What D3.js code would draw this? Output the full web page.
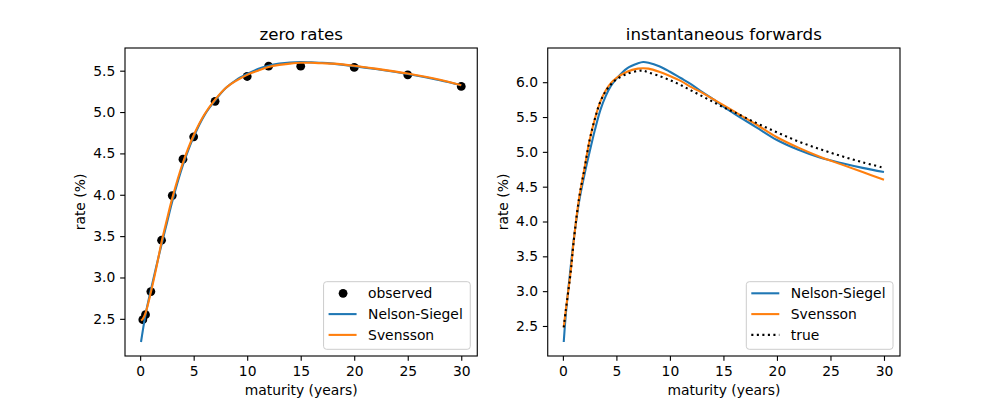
<!DOCTYPE html>
<html>
<head>
<meta charset="utf-8">
<script src="https://cdn.jsdelivr.net/npm/d3@7"></script>
<style>
    html, body { margin: 0; padding: 0; background: #fff; }
    svg text { font-family: "DejaVu Sans", sans-serif; fill: #000; }
</style>
</head>
<body>
<div id="chart"></div>
<script>
(function () {

    // observed zero rates
    var OBS_T    = [0.25, 0.5, 1, 2, 3, 4, 5, 7, 10, 12, 15, 20, 25, 30];
    var OBS_RATE = [2.49, 2.55, 2.83, 3.45, 3.99, 4.43, 4.70, 5.13, 5.43, 5.555, 5.555, 5.54, 5.45, 5.31];

    // fitted zero curves
    var ZERO_T  = [0.08, 0.25, 0.5, 1, 1.5, 2, 2.5, 3, 4, 5, 6, 7, 8, 9, 10, 11, 12, 13, 14, 15, 16, 17, 18, 20, 22, 25, 28, 30];
    var ZERO_NS = [2.22, 2.36, 2.55, 2.85, 3.13, 3.40, 3.66, 3.92, 4.36, 4.70, 4.96, 5.14, 5.29, 5.39, 5.46, 5.52, 5.56, 5.585, 5.60, 5.605, 5.60, 5.595, 5.585, 5.555, 5.52, 5.46, 5.385, 5.325];
    var ZERO_SV = [2.48, 2.50, 2.57, 2.82, 3.11, 3.43, 3.70, 3.96, 4.39, 4.72, 4.97, 5.15, 5.29, 5.38, 5.45, 5.50, 5.545, 5.57, 5.585, 5.595, 5.595, 5.59, 5.585, 5.56, 5.525, 5.465, 5.39, 5.325];

    // instantaneous forwards
    var FWD_T    = [0.08, 0.25, 0.5, 0.75, 1, 1.5, 2, 2.5, 3, 3.5, 4, 4.5, 5, 6, 7, 7.5, 8, 9, 10, 11, 12, 13, 14, 15, 16, 18, 20, 22, 24, 26, 28, 30];
    var FWD_NS   = [2.27, 2.62, 3.02, 3.38, 3.72, 4.27, 4.66, 5.00, 5.32, 5.60, 5.80, 5.95, 6.05, 6.20, 6.27, 6.29, 6.28, 6.23, 6.15, 6.06, 5.97, 5.86, 5.76, 5.65, 5.55, 5.36, 5.17, 5.03, 4.92, 4.84, 4.77, 4.71];
    var FWD_SV   = [2.48, 2.70, 3.00, 3.31, 3.70, 4.32, 4.75, 5.17, 5.48, 5.72, 5.88, 5.99, 6.06, 6.15, 6.195, 6.20, 6.195, 6.15, 6.09, 6.02, 5.93, 5.85, 5.76, 5.67, 5.58, 5.40, 5.21, 5.06, 4.93, 4.82, 4.71, 4.60];
    var FWD_TRUE = [2.48, 2.70, 2.99, 3.30, 3.70, 4.32, 4.74, 5.17, 5.48, 5.72, 5.87, 5.97, 6.04, 6.12, 6.16, 6.165, 6.14, 6.09, 6.03, 5.96, 5.88, 5.80, 5.72, 5.64, 5.57, 5.42, 5.28, 5.15, 5.04, 4.94, 4.85, 4.77];

    // ticks
    var X_TICKS       = [0, 5, 10, 15, 20, 25, 30];
    var Y_TICKS_ZERO  = [2.5, 3.0, 3.5, 4.0, 4.5, 5.0, 5.5];
    var Y_TICKS_FWD   = [2.5, 3.0, 3.5, 4.0, 4.5, 5.0, 5.5, 6.0];

    var BLUE   = "#1f77b4";
    var ORANGE = "#ff7f0e";

    var W = 1000, H = 400;
    var PT = 100 / 72;          // matplotlib points -> px
    var FS = 10 * PT;           // base font size
    var TICK = 3.5 * PT;

    var axW  = 775 / 2.2;
    var top  = 48, bottom = 356;
    var iH   = bottom - top;

    var svg = d3.select("#chart").append("svg")
        .attr("width", W).attr("height", H);

    function zip(ts, vs) {
        return ts.map(function (t, i) { return { t: t, v: vs[i] }; });
    }

    function padded(ext) {
        var p = (ext[1] - ext[0]) * 0.05;
        return [ext[0] - p, ext[1] + p];
    }

    /* one panel */
    function panel(left, title, yTicks, series, points, legendItems) {
        var g = svg.append("g")
            .attr("transform", "translate(" + left + "," + top + ")");

        var allT = [], allV = [];
        series.forEach(function (s) { allT = allT.concat(s.t); allV = allV.concat(s.v); });
        if (points) { allT = allT.concat(points.t); allV = allV.concat(points.v); }

        var x = d3.scaleLinear().domain(padded(d3.extent(allT))).range([0, axW]);
        var y = d3.scaleLinear().domain(padded(d3.extent(allV))).range([iH, 0]);

        g.append("defs").append("clipPath")
            .attr("id", "clip-" + left)
            .append("rect").attr("width", axW).attr("height", iH);

        var plot = g.append("g").attr("clip-path", "url(#clip-" + left + ")");

        if (points) {
            plot.selectAll("circle.obs")
                .data(zip(points.t, points.v))
                .enter().append("circle")
                .attr("class", "obs")
                .attr("cx", function (d) { return x(d.t); })
                .attr("cy", function (d) { return y(d.v); })
                .attr("r", 4.4)
                .attr("fill", "#000");
        }

        var line = d3.line()
            .x(function (d) { return x(d.t); })
            .y(function (d) { return y(d.v); })
            .curve(d3.curveCatmullRom.alpha(0.5));

        series.forEach(function (s) {
            plot.append("path")
                .datum(zip(s.t, s.v))
                .attr("fill", "none")
                .attr("stroke", s.color)
                .attr("stroke-width", 1.5 * PT)
                .attr("stroke-dasharray", s.dash || null)
                .attr("d", line);
        });

        // axes
        var xAxis = g.append("g")
            .attr("transform", "translate(0," + iH + ")")
            .call(d3.axisBottom(x).tickValues(X_TICKS).tickFormat(d3.format("d"))
                .tickSize(TICK).tickPadding(TICK).tickSizeOuter(0));
        var yAxis = g.append("g")
            .call(d3.axisLeft(y).tickValues(yTicks).tickFormat(d3.format(".1f"))
                .tickSize(TICK).tickPadding(TICK).tickSizeOuter(0));

        [xAxis, yAxis].forEach(function (a) {
            a.select(".domain").remove();
            a.selectAll("line").attr("stroke", "#000").attr("stroke-width", 0.8 * PT);
            a.selectAll("text")
                .attr("fill", "#000")
                .style("font-family", "'DejaVu Sans', sans-serif")
                .style("font-size", FS + "px");
        });

        // frame
        g.append("rect")
            .attr("width", axW).attr("height", iH)
            .attr("fill", "none")
            .attr("stroke", "#000")
            .attr("stroke-width", 0.8 * PT);

        // labels
        g.append("text")
            .attr("x", axW / 2).attr("y", -8.3)
            .attr("text-anchor", "middle")
            .style("font-size", (12 * PT) + "px")
            .text(title);

        g.append("text")
            .attr("x", axW / 2).attr("y", iH + 39)
            .attr("text-anchor", "middle")
            .style("font-size", FS + "px")
            .text("maturity (years)");

        g.append("text")
            .attr("transform", "rotate(-90)")
            .attr("x", -iH / 2).attr("y", -40)
            .attr("text-anchor", "middle")
            .style("font-size", FS + "px")
            .text("rate (%)");

        // legend
        var lgW = 146.7, lgH = 67.6;
        var lg = g.append("g")
            .attr("transform", "translate(" + (axW - 7 - lgW) + "," + (iH - 6.7 - lgH) + ")");
        lg.append("rect")
            .attr("width", lgW).attr("height", lgH)
            .attr("rx", 3).attr("ry", 3)
            .attr("fill", "#fff").attr("fill-opacity", 0.8)
            .attr("stroke", "#cccccc").attr("stroke-width", 1);

        legendItems.forEach(function (d, i) {
            var row = lg.append("g").attr("transform", "translate(0," + (11.6 + i * 20.8) + ")");
            if (d.marker) {
                row.append("circle")
                    .attr("cx", 19.5).attr("cy", 0).attr("r", 4.4)
                    .attr("fill", "#000");
            } else {
                row.append("line")
                    .attr("x1", 5).attr("x2", 33)
                    .attr("stroke", d.color)
                    .attr("stroke-width", 1.5 * PT)
                    .attr("stroke-dasharray", d.dash || null);
            }
            row.append("text")
                .attr("x", 44.5).attr("dy", "0.35em")
                .style("font-size", FS + "px")
                .text(d.label);
        });
    }

    var DOT = (1 * 1.5 * PT) + " " + (1.65 * 1.5 * PT);

    panel(125, "zero rates", Y_TICKS_ZERO,
        [
            { t: ZERO_T, v: ZERO_NS, color: BLUE },
            { t: ZERO_T, v: ZERO_SV, color: ORANGE }
        ],
        { t: OBS_T, v: OBS_RATE },
        [
            { marker: true, label: "observed" },
            { color: BLUE,   label: "Nelson-Siegel" },
            { color: ORANGE, label: "Svensson" }
        ]);

    panel(125 + axW * 1.2, "instantaneous forwards", Y_TICKS_FWD,
        [
            { t: FWD_T, v: FWD_NS,   color: BLUE },
            { t: FWD_T, v: FWD_SV,   color: ORANGE },
            { t: FWD_T, v: FWD_TRUE, color: "#000", dash: DOT }
        ],
        null,
        [
            { color: BLUE,   label: "Nelson-Siegel" },
            { color: ORANGE, label: "Svensson" },
            { color: "#000", label: "true", dash: DOT }
        ]);

}());
</script>
</body>
</html>
